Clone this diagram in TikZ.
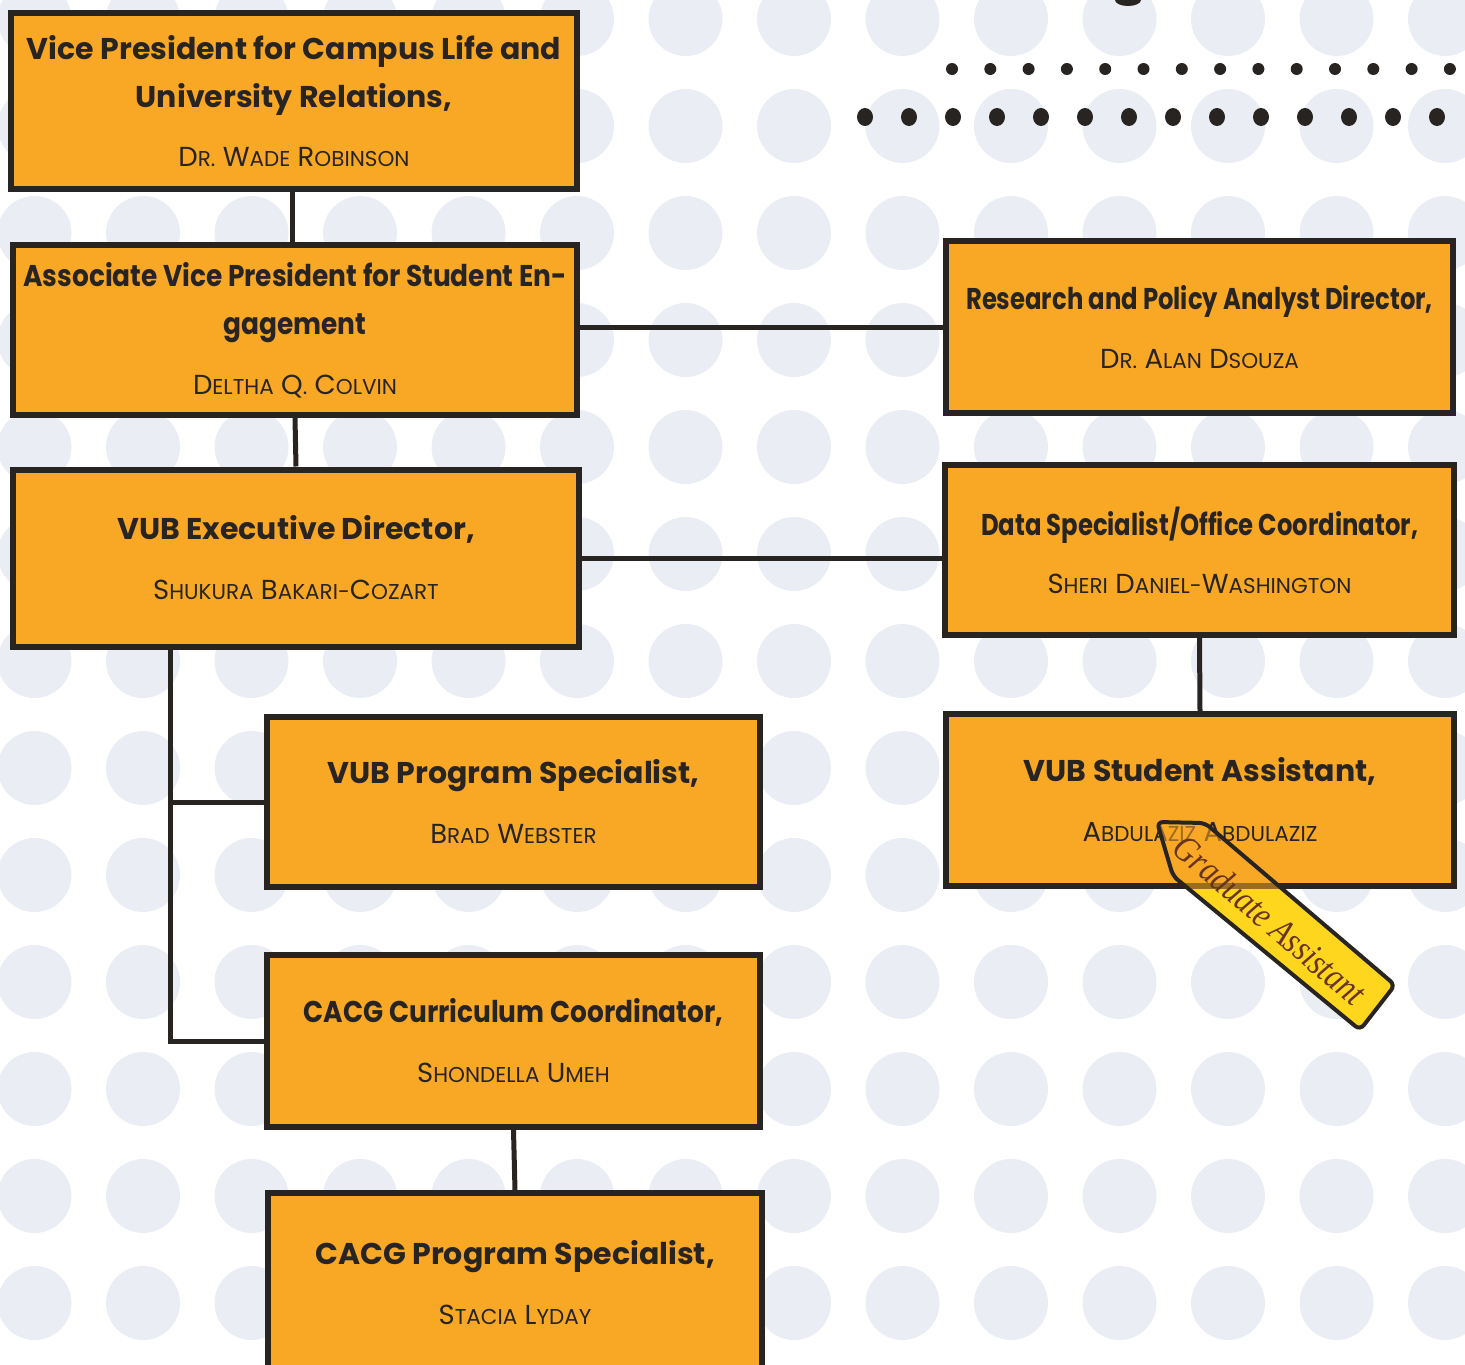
\documentclass[tikz,border=0pt]{standalone}
\usepackage{fontspec}
\setmainfont{Poppins}
\newfontfamily\ttlfont{Poppins}
\newfontfamily\cndfont{Poppins}[FakeStretch=0.81]
\newfontfamily\midfont{Poppins}[FakeStretch=0.88]
\newfontfamily\nmfont{Poppins}
\newfontfamily\handfont{Liberation Serif}[FakeStretch=0.84]
\definecolor{BoxClr}{RGB}{248,168,36}
\definecolor{LineClr}{RGB}{40,36,34}
\definecolor{DotClr}{RGB}{234,237,243}
\definecolor{TagClr}{RGB}{255,214,30}
\definecolor{InkClr}{RGB}{104,52,30}
\newcommand\smc[2]{#1{\fontsize{21.5}{21.5}\selectfont#2}}
\newcommand\nm[1]{{\nmfont\mdseries\fontsize{27.5}{48}\selectfont#1}}

\begin{document}
\begin{tikzpicture}[x=1pt,y=-1pt,
  post/.style={draw=LineClr,line width=6pt,fill=BoxClr,align=center,text=LineClr,
    font=\ttlfont\bfseries\fontsize{30}{48}\selectfont},
  cnd/.style={font=\cndfont\bfseries\fontsize{30}{48}\selectfont},
  mid/.style={font=\midfont\bfseries\fontsize{30}{48}\selectfont},
  link/.style={draw=LineClr,line width=5pt}]
\useasboundingbox (0,0) rectangle (1465,1365);
\clip (0,0) rectangle (1465,1365);

\foreach \i in {0,...,13}
  \foreach \j in {0,...,12}
    \fill[DotClr] (34.5+108.5*\i,19+107*\j) circle (37);

\fill[LineClr] (1128,0) ellipse (13 and 6);
\foreach \i in {0,...,13} \fill[LineClr] (952+38.3*\i,69) circle (6);
\foreach \i in {0,...,13} \fill[LineClr] (865+44*\i,117) ellipse (8 and 9);

\node[post,minimum width=566pt,minimum height=176pt] (vp) at (294,101)
  {Vice President for Campus Life and\\University Relations,\\[11pt]
   \nm{\smc{D}{R.} \smc{W}{ADE} \smc{R}{OBINSON}}};
\node[post,mid,minimum width=564pt,minimum height=170pt] (avp) at (295,330)
  {Associate Vice President for Student En-\\gagement\\[12pt]
   \nm{\smc{D}{ELTHA} \smc{Q}{.} \smc{C}{OLVIN}}};
\node[post,minimum width=566pt,minimum height=177pt] (exd) at (296,558)
  {VUB Executive Director,\\[12pt]
   \nm{\smc{S}{HUKURA} \smc{B}{AKARI-}\smc{C}{OZART}}};
\node[post,minimum width=493pt,minimum height=170pt] (vps) at (513.5,802)
  {VUB Program Specialist,\\[12pt]
   \nm{\smc{B}{RAD} \smc{W}{EBSTER}}};
\node[post,mid,minimum width=493pt,minimum height=172pt] (ccc) at (513.5,1041)
  {CACG Curriculum Coordinator,\\[12pt]
   \nm{\smc{S}{HONDELLA} \smc{U}{MEH}}};
\node[post,minimum width=494pt,minimum height=179pt] (cps) at (515,1282.5)
  {CACG Program Specialist,\\[12pt]
   \nm{\smc{S}{TACIA} \smc{L}{YDAY}}};
\node[post,cnd,minimum width=507pt,minimum height=172pt] (rpa) at (1199.5,327)
  {Research and Policy Analyst Director,\\[11pt]
   \nm{\smc{D}{R.} \smc{A}{LAN} \smc{D}{SOUZA}}};
\node[post,cnd,minimum width=509pt,minimum height=170pt] (dso) at (1199.5,550)
  {Data Specialist/Office Coordinator,\\[10pt]
   \nm{\smc{S}{HERI} \smc{D}{ANIEL-}\smc{W}{ASHINGTON}}};
\node[post,minimum width=508pt,minimum height=172pt] (vsa) at (1200,800)
  {VUB Student Assistant,\\[12pt]
   \nm{\smc{A}{BDULAZIZ} \smc{A}{BDULAZIZ}}};

\draw[link] (vp.south -| 292,0) -- (avp.north -| 292,0);
\draw[link] (avp.south) -- (exd.north);
\draw[link] (avp.east |- rpa.west) -- (rpa.west);
\draw[link] (exd.east) -- (exd.east -| dso.west);
\draw[link] (dso.south) -- (vsa.north);
\draw[link] ([xshift=160pt]exd.south west) |- (ccc.west);
\draw[link] ([xshift=160pt]exd.south west |- vps.west) -- (vps.west);
\draw[link] (ccc.south) -- (cps.north);

\begin{scope}
\clip (1157,822) -- (1205,823) -- (1395,985) -- (1360,1030) -- (1173,876) -- cycle;
\fill[TagClr] (1100,889) rectangle (1420,1040);
\fill[BoxClr,fill opacity=.55] (1100,800) rectangle (1420,889);
\end{scope}
\draw[LineClr,line width=4pt,rounded corners=6pt]
  (1157,822) -- (1205,823) -- (1395,985) -- (1360,1030) -- (1173,876) -- cycle;
\node[rotate=-40.5,text=InkClr,font=\handfont\itshape\fontsize{37}{37}\selectfont] (grad)
  at (1270,920) {Graduate Assistant};
\end{tikzpicture}
\end{document}
